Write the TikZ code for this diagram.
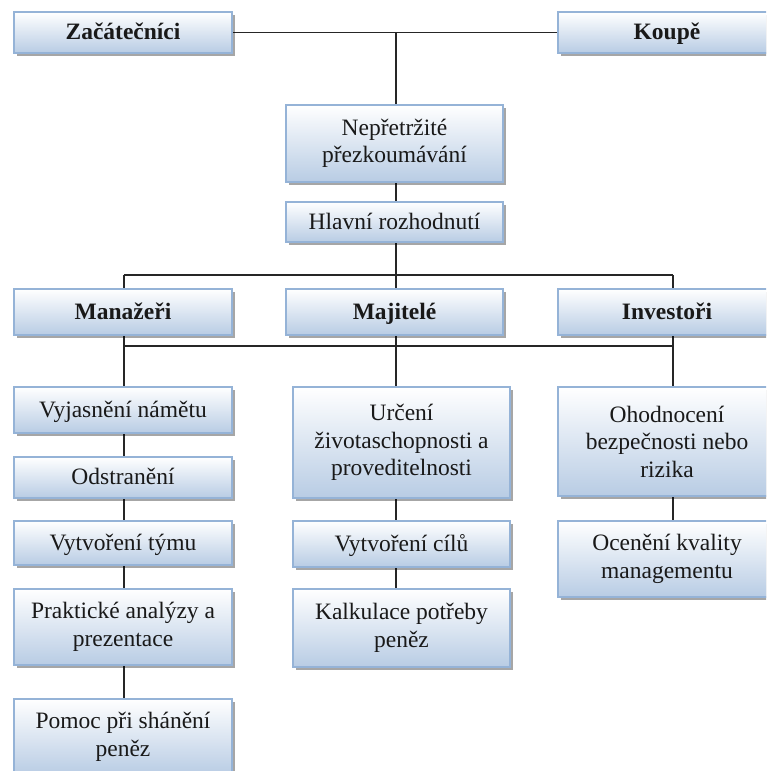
\documentclass[tikz,border=0pt]{standalone}
\usepackage{fontspec}
\setmainfont{Liberation Serif}
\usetikzlibrary{shadows}
\definecolor{boxblue}{RGB}{184,204,228}
\definecolor{boxedge}{RGB}{149,179,215}
\definecolor{txt}{RGB}{25,25,25}
\pgfdeclarelayer{bg}
\pgfsetlayers{bg,main}
\tikzset{
  box/.style={rectangle, draw=boxedge, line width=1.2pt, top color=white, bottom color=boxblue,
    minimum width=218pt, inner sep=0pt, align=center, text=txt,
    font=\fontsize{23.5}{27.5}\selectfont,
    drop shadow={shadow xshift=3pt, shadow yshift=-3pt, fill=black, opacity=0.35}},
  one/.style={text height=19pt, text depth=5pt},
  head/.style={box, one, font=\fontsize{23.5}{27.5}\selectfont\bfseries},
  link/.style={draw=black!85, line width=1.3pt}
}
\begin{document}
\begin{tikzpicture}[x=1pt,y=-1pt]
\useasboundingbox (0,0) rectangle (766,771);
\clip (0,0) rectangle (766,771);
% top row
\node[head, minimum height=41pt] (zac) at (123,32.5) {Začátečníci};
\node[head, minimum height=41pt] (koupe) at (667,32.5) {Koupě};
\node[box, minimum width=217pt, minimum height=77pt] (nepr) at (394.5,143.5) {Nepřetržité\\přezkoumávání};
\node[box, one, minimum width=217pt, minimum height=40pt] (hlav) at (394.5,222) {Hlavní rozhodnutí};
% second row
\node[head, minimum height=46pt] (man) at (123,312) {Manažeři};
\node[head, minimum width=217pt, minimum height=46pt] (maj) at (394.5,312) {Majitelé};
\node[head, minimum height=46pt] (inv) at (667,312) {Investoři};
% left column
\node[box, one, minimum height=46pt] (vyj) at (123,410) {Vyjasnění námětu};
\node[box, one, minimum height=41pt] (ods) at (123,477.5) {Odstranění};
\node[box, one, minimum height=44pt] (vyt) at (123,543) {Vytvoření týmu};
\node[box, minimum height=76pt] (prak) at (123,627) {Praktické analýzy a\\prezentace};
\node[box, minimum height=76pt] (pom) at (123,737) {Pomoc při shánění\\peněz};
% middle column
\node[box, minimum width=217pt, minimum height=111pt] (urc) at (401.5,442.5) {Určení\\životaschopnosti a\\proveditelnosti};
\node[box, one, minimum width=217pt, minimum height=46pt] (cil) at (401.5,544) {Vytvoření cílů};
\node[box, minimum width=217pt, minimum height=78pt] (kalk) at (401.5,628) {Kalkulace potřeby\\peněz};
% right column
\node[box, minimum height=109pt] (ohod) at (667,441.5) {Ohodnocení\\bezpečnosti nebo\\rizika};
\node[box, minimum height=76pt] (ocen) at (667,559) {Ocenění kvality\\managementu};
% junction coordinates
\coordinate (t0) at (396,32);
\coordinate (b1) at (396,275);
\coordinate (l1) at (124,275);
\coordinate (r1) at (673,275);
\coordinate (l2) at (124,346);
\coordinate (m2) at (396,346);
\coordinate (r2) at (673,346);
\begin{pgfonlayer}{bg}
\fill[white] (0,0) rectangle (766,771);
\draw[link] (zac.east) -- (koupe.west);
\draw[link] (t0) -- (t0 |- nepr.north);
\draw[link] (t0 |- nepr.south) -- (t0 |- hlav.north);
\draw[link] (t0 |- hlav.south) -- (b1);
\draw[link] (l1) -- (r1);
\draw[link] (l1) -- (l1 |- vyj.north);
\draw[link] (b1) -- (b1 |- urc.north);
\draw[link] (r1) -- (r1 |- ohod.north);
\draw[link] (l2) -- (r2);
\draw[link] (l1 |- vyj.south) -- (l1 |- ods.north);
\draw[link] (l1 |- ods.south) -- (l1 |- vyt.north);
\draw[link] (l1 |- vyt.south) -- (l1 |- prak.north);
\draw[link] (l1 |- prak.south) -- (l1 |- pom.north);
\draw[link] (b1 |- urc.south) -- (b1 |- cil.north);
\draw[link] (b1 |- cil.south) -- (b1 |- kalk.north);
\draw[link] (r1 |- ohod.south) -- (r1 |- ocen.north);
\end{pgfonlayer}
\end{tikzpicture}
\end{document}
